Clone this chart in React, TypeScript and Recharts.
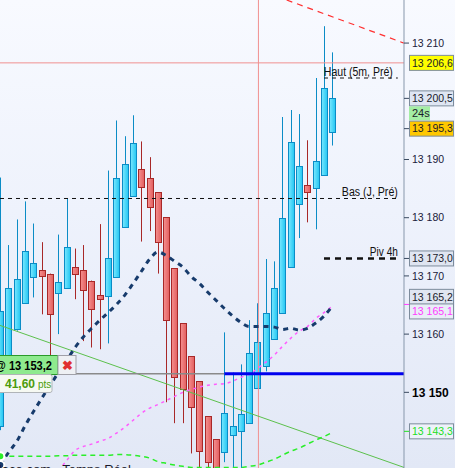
import React from "react";
import { ComposedChart, Bar, Line, XAxis, YAxis, ReferenceLine } from "recharts";

// 5-minute candles, oldest first
const candleIdx = [0, 1, 2, 3, 4, 5, 6, 7, 8, 9, 10, 11, 12, 13, 14, 15, 16, 17, 18, 19, 20, 21, 22, 23, 24, 25, 26, 27, 28, 29, 30, 31, 32, 33, 34, 35, 36, 37, 38, 39, 40];
const opens = [13144.2, 13156.0, 13160.8, 13165.3, 13169.8, 13171.0, 13170.4, 13167.0, 13167.9, 13171.5, 13171.0, 13169.2, 13166.7, 13166.5, 13169.8, 13178.4, 13183.7, 13188.3, 13186.8, 13184.4, 13180.1, 13171.3, 13161.9, 13156.2, 13151.9, 13145.9, 13141.9, 13139.7, 13142.6, 13143.3, 13144.8, 13150.7, 13154.6, 13159.1, 13163.6, 13171.5, 13182.3, 13185.6, 13185.1, 13187.3, 13194.7];
const highs = [13186.9, 13175.3, 13179.7, 13182.8, 13179.0, 13175.8, 13170.4, 13177.1, 13183.3, 13174.7, 13175.3, 13169.2, 13178.9, 13188.1, 13196.7, 13194.0, 13197.6, 13193.1, 13190.4, 13184.4, 13180.1, 13171.3, 13161.9, 13156.2, 13151.9, 13145.9, 13141.9, 13160.3, 13153.4, 13154.8, 13162.4, 13165.3, 13172.9, 13172.5, 13197.3, 13198.5, 13197.8, 13193.3, 13204.0, 13212.9, 13208.4];
const lows = [13143.5, 13153.0, 13160.6, 13165.2, 13166.3, 13163.4, 13154.6, 13160.0, 13167.9, 13166.0, 13158.8, 13157.7, 13157.4, 13158.4, 13169.8, 13178.4, 13183.7, 13175.9, 13177.7, 13170.4, 13148.3, 13144.7, 13144.7, 13139.5, 13135.5, 13134.0, 13133.0, 13138.0, 13135.5, 13135.0, 13144.8, 13150.7, 13153.6, 13159.1, 13163.6, 13171.5, 13176.5, 13179.2, 13178.0, 13187.3, 13192.4];
const closes = [13163.9, 13167.9, 13169.4, 13174.2, 13172.3, 13169.9, 13163.4, 13168.9, 13174.9, 13170.4, 13167.5, 13164.3, 13166.0, 13173.0, 13186.9, 13189.3, 13192.8, 13185.2, 13181.8, 13175.8, 13162.5, 13152.6, 13150.5, 13147.4, 13139.9, 13138.0, 13134.9, 13146.4, 13144.2, 13146.2, 13156.7, 13158.6, 13163.6, 13167.9, 13179.9, 13193.0, 13188.8, 13184.4, 13189.7, 13202.2, 13200.5];

// moving averages
const maNavy = [13137.5, 13139.7, 13141.6, 13144.3, 13146.7, 13149.0, 13151.2, 13153.4, 13155.5, 13157.7, 13159.5, 13161.0, 13162.4, 13163.7, 13165.1, 13166.7, 13168.7, 13170.8, 13172.9, 13174.1, 13173.5, 13172.5, 13171.5, 13169.9, 13168.7, 13167.2, 13165.8, 13164.4, 13163.1, 13162.0, 13161.3, 13161.3, 13161.3, 13161.2, 13160.8, 13161.0, 13160.7, 13161.0, 13161.9, 13163.1, 13164.8];
const maPink = [null, null, null, null, null, null, null, 13136.5, 13138.3, 13140.0, 13140.7, 13141.1, 13141.6, 13142.1, 13143.0, 13144.0, 13145.2, 13146.4, 13147.3, 13147.9, 13148.6, 13149.3, 13150.0, 13150.5, 13150.9, 13151.2, 13151.4, 13151.5, 13151.9, 13152.6, 13153.1, 13154.1, 13155.2, 13156.4, 13157.9, 13159.3, 13160.5, 13161.3, 13162.7, 13163.7, 13164.8];
const maGreen = [13139.0, 13139.0, 13139.0, 13139.0, 13139.0, 13139.0, 13139.0, 13139.1, 13139.1, 13139.2, 13139.2, 13139.2, 13139.2, 13139.2, 13139.3, 13139.3, 13139.2, 13139.0, 13138.7, 13138.1, 13137.8, 13137.5, 13137.3, 13137.1, 13137.1, 13137.1, 13137.1, 13137.1, 13137.1, 13137.1, 13137.3, 13137.5, 13138.0, 13138.5, 13139.2, 13139.9, 13140.4, 13141.1, 13141.8, 13142.4, 13143.1];

// levels and drawings
const prevHigh = 13206.6;
const haut5m = 13204.0;
const basJour = 13183.3;
const pivot4h = 13173.0;
const entryPrice = 13153.2;
const entryPts = "41,60";
const cursorIdx = 31.1;
const levelFrom = 39.0;
const levelTo = 47.9;
const entryFrom = 9.1;
const entryBlueFrom = 27.0;
const greenTrend = [{ x: -0.04, y: 13161.5 }, { x: 48.64, y: 13137.1 }];
const redTrend = [{ x: 34.5, y: 13217.4 }, { x: 48.64, y: 13210.0 }];

const xDomain = [-0.04, 48.64];
const yDomain = [13137.0, 13217.4];
const axisTicks = [13150, 13160, 13170, 13180, 13190, 13210];
const tagValues = [13206.6, 13200.5, 13195.3, 13173.0, 13165.2, 13165.1, 13143.3];
const timerText = "24s";

const FONT = '"Liberation Sans", Arial, sans-serif';

const tagLook: Record<string, { fill: string; color: string; shift: number; tick: boolean }> = {
  "13206.6": { fill: "#ffff00", color: "#1a1a2a", shift: 0, tick: false },
  "13200.5": { fill: "#dfe6f3", color: "#1a1a2a", shift: 0, tick: true },
  "13195.3": { fill: "#ffc800", color: "#1a1a2a", shift: 0, tick: true },
  "13173": { fill: "#dfe5f1", color: "#1a1a2a", shift: 0, tick: true },
  "13165.2": { fill: "#dfe5f1", color: "#1a1a2a", shift: -7, tick: false },
  "13165.1": { fill: "#e9edf7", color: "#ff3cff", shift: 7, tick: true },
  "13143.3": { fill: "#eef2fa", color: "#22e022", shift: 0, tick: true },
};

const data = candleIdx.map((i, k) => ({
  i,
  open: opens[k],
  high: highs[k],
  low: lows[k],
  close: closes[k],
  range: [lows[k], highs[k]],
  maNavy: maNavy[k],
  maPink: maPink[k],
  maGreen: maGreen[k],
}));

function fr(v: number, dec: number) {
  const [a, b] = v.toFixed(dec).split(".");
  return a.replace(/\B(?=(\d{3})+(?!\d))/g, " ") + (b ? "," + b : "");
}

function Candle(props: any) {
  const { x, y, width, height, payload } = props;
  if (!payload || height == null) return null;
  const { open, close, high, low } = payload;
  const up = close >= open;
  const py = (v: number) => y + ((high - v) / (high - low)) * height;
  const cx = Math.round(x + width / 2) + 0.5;
  const top = Math.round(py(Math.max(open, close))) + 0.5;
  const bot = Math.round(py(Math.min(open, close))) + 0.5;
  const edge = up ? "#0b8cc6" : "#a82828";
  return (
    <g>
      <line x1={cx} x2={cx} y1={y} y2={y + height} stroke={edge} strokeWidth={1} />
      <rect
        x={cx - 3}
        y={top}
        width={6}
        height={Math.max(bot - top, 2)}
        fill={up ? "url(#upBody)" : "url(#dnBody)"}
        stroke={edge}
        strokeWidth={1}
      />
    </g>
  );
}

function PriceTick(props: any) {
  const { x, y, payload } = props;
  const v = payload.value;
  const look = tagLook[String(v)];
  if (!look) {
    const bold = v === 13150;
    return (
      <g>
        <line x1={x - 8} x2={x - 3} y1={y} y2={y} stroke="#3a4a60" />
        <text x={x} y={y} dy="0.36em" fontSize={bold ? 12 : 10.5} fontWeight={bold ? 700 : 400} fill={bold ? "#000" : "#1a1a3a"} fontFamily={FONT}>
          {fr(v, 0)}
        </text>
      </g>
    );
  }
  const by = y + look.shift;
  return (
    <g>
      {look.tick && (
        <line x1={x - 8} x2={x - 3} y1={y} y2={y} stroke={look.color === "#1a1a2a" ? "#3a4a60" : look.color} />
      )}
      <rect x={x - 2.5} y={by - 7.5} width={44} height={15} fill={look.fill} stroke="#7d8c9c" />
      <text x={x} y={by} dy="0.36em" fontSize={10.5} fill={look.color} fontFamily={FONT}>
        {fr(v, 1)}
      </text>
      {v === 13200.5 && (
        <g>
          <rect x={x - 3} y={y + 8} width={21} height={14} fill="#a4eea4" />
          <text x={x} y={y + 15} dy="0.36em" fontSize={11} fill="#1a1a2a" fontFamily={FONT}>
            {timerText}
          </text>
        </g>
      )}
    </g>
  );
}

function LevelLabel(props: any) {
  const { viewBox, text, inset, fit } = props;
  if (!viewBox) return null;
  return (
    <text
      x={viewBox.x + viewBox.width - (inset || 0) - fit}
      y={viewBox.y - 2}
      fontSize={12}
      fill="#111"
      fontFamily={FONT}
      textLength={fit}
      lengthAdjust="spacingAndGlyphs"
    >
      {text}
    </text>
  );
}

function EntryTag(props: any) {
  const { viewBox } = props;
  if (!viewBox) return null;
  const x0 = viewBox.x;
  const y0 = Math.round(viewBox.y) + 0.5;
  return (
    <g fontFamily={FONT}>
      <rect x={x0 - 2} y={y0 - 19} width={60} height={19} fill="#8eea8e" stroke="#2a9a2a" />
      <text x={x0 - 5} y={y0 - 5} fontSize={12.5} fontWeight={700} fill="#000" textLength={57} lengthAdjust="spacingAndGlyphs">
        {"@ " + fr(entryPrice, 1)}
      </text>
      <rect x={x0 + 58} y={y0 - 19} width={18} height={19} fill="#eef0f4" stroke="#a0a0a8" />
      <text x={x0 + 67} y={y0 - 5} fontSize={13} fontWeight={700} fill="#e03030" textAnchor="middle">
        ✖
      </text>
      <rect x={x0 - 2} y={y0} width={54} height={18} rx={2} fill="#f6f9f2" stroke="#b0b4b8" />
      <text x={x0 + 5} y={y0 + 13} fontSize={12} fontWeight={700} fill="#4c9c0c">
        {entryPts}
        <tspan fontSize={10} fontWeight={400} dx={3}>pts</tspan>
      </text>
    </g>
  );
}

export default function App() {
  return (
    <div
      style={{
        position: "absolute",
        left: 0,
        top: 0,
        width: 455,
        height: 468,
        overflow: "hidden",
        background: "linear-gradient(to bottom, #f8faff 0%, #eef2fc 45%, #e2e8f6 100%)",
      }}
    >
      <ComposedChart width={455} height={468} data={data} margin={{ top: 0, right: 0, bottom: 0, left: 0 }}>
        <defs>
          <linearGradient id="upBody" x1="0" y1="0" x2="1" y2="0">
            <stop offset="0%" stopColor="#7ae8ff" />
            <stop offset="100%" stopColor="#22c6f2" />
          </linearGradient>
          <linearGradient id="dnBody" x1="0" y1="0" x2="1" y2="0">
            <stop offset="0%" stopColor="#f59090" />
            <stop offset="100%" stopColor="#e25e5e" />
          </linearGradient>
        </defs>
        <XAxis dataKey="i" type="number" domain={xDomain} allowDataOverflow hide />
        <YAxis
          orientation="right"
          type="number"
          domain={yDomain}
          allowDataOverflow
          ticks={[...axisTicks, ...tagValues]}
          interval={0}
          tick={<PriceTick />}
          tickLine={false}
          tickSize={6}
          tickMargin={2}
          axisLine={{ stroke: "#8797ab" }}
          width={51}
        />

        <ReferenceLine y={prevHigh} stroke="#f09090" strokeWidth={1} />
        <ReferenceLine x={cursorIdx} stroke="#f09090" strokeWidth={1} />
        <ReferenceLine segment={redTrend} stroke="#ff3030" strokeWidth={1.2} strokeDasharray="6 5" ifOverflow="hidden" />
        <ReferenceLine segment={greenTrend} stroke="#5cc04c" strokeWidth={1} ifOverflow="hidden" />
        <ReferenceLine
          segment={[{ x: -0.04, y: basJour }, { x: levelTo, y: basJour }]}
          stroke="#111"
          strokeDasharray="4 4"
          ifOverflow="hidden"
          label={<LevelLabel text="Bas (J, Pré)" fit={56} />}
        />
        <ReferenceLine
          segment={[{ x: levelFrom, y: haut5m }, { x: levelTo, y: haut5m }]}
          stroke="#111"
          strokeDasharray="4 4"
          ifOverflow="hidden"
          label={<LevelLabel text="Haut (5m, Pré)" inset={5} fit={69} />}
        />
        <ReferenceLine
          segment={[{ x: levelFrom, y: pivot4h }, { x: levelTo, y: pivot4h }]}
          stroke="#111"
          strokeWidth={2.5}
          strokeDasharray="6 5"
          ifOverflow="hidden"
          label={<LevelLabel text="Piv 4h" fit={28} />}
        />

        <Line dataKey="maGreen" stroke="#2aee2a" strokeWidth={1.5} strokeDasharray="5 4" dot={false} type="monotone" isAnimationActive={false} />
        <Line dataKey="maPink" stroke="#ff5cff" strokeWidth={1.5} strokeDasharray="3 4" dot={false} type="monotone" isAnimationActive={false} />

        <Bar dataKey="range" barSize={6} shape={<Candle />} isAnimationActive={false} />

        <Line dataKey="maNavy" stroke="#173b6c" strokeWidth={3} strokeDasharray="5 5" dot={false} type="monotone" isAnimationActive={false} />

        <ReferenceLine
          segment={[{ x: entryFrom, y: entryPrice }, { x: entryBlueFrom, y: entryPrice }]}
          stroke="#8a8a8a"
          strokeWidth={1.5}
          ifOverflow="hidden"
        />
        <ReferenceLine
          segment={[{ x: entryBlueFrom, y: entryPrice }, { x: xDomain[1], y: entryPrice }]}
          stroke="#0000ee"
          strokeWidth={3}
          ifOverflow="hidden"
        />
        <ReferenceLine y={entryPrice} stroke="none" label={<EntryTag />} />
      </ComposedChart>
      <div
        style={{
          position: "absolute",
          left: -9,
          top: 462,
          fontFamily: FONT,
          fontSize: 13,
          color: "#1a1a2a",
          whiteSpace: "nowrap",
        }}
      >
        Mace.com - Temps Réel
      </div>
    </div>
  );
}
